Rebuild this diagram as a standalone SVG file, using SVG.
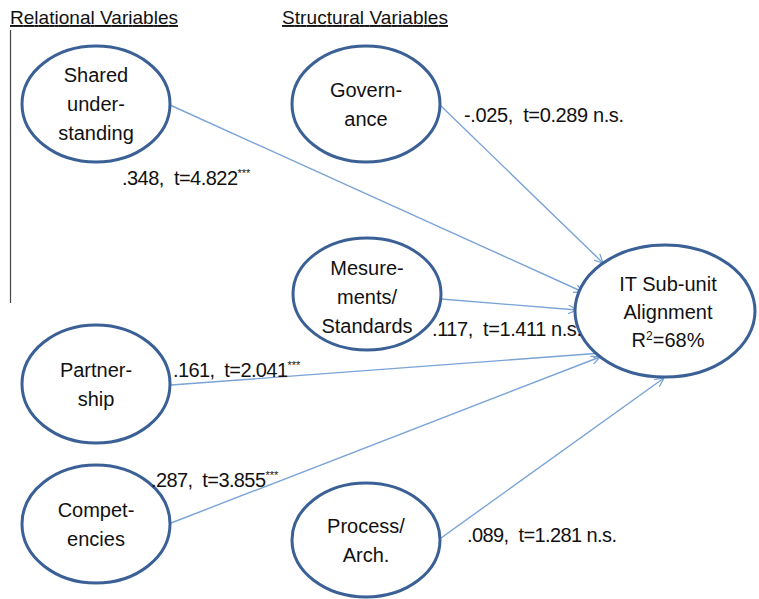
<svg xmlns="http://www.w3.org/2000/svg" width="759" height="599" viewBox="0 0 759 599">
<style>
.node{fill:#fff;stroke:#3a6096;stroke-width:3}
.t{font-family:"Liberation Sans",Arial,sans-serif;font-size:20px;fill:#111;text-anchor:middle}
.lab{font-family:"Liberation Sans",Arial,sans-serif;font-size:20px;fill:#111;white-space:pre}
.sup{font-size:11px}
.hd{font-family:"Liberation Sans",Arial,sans-serif;font-size:19px;fill:#111;text-decoration:underline}
.e{stroke:#7aa3d6;stroke-width:1.4;fill:none;marker-end:url(#ah)}
</style>
<defs>
<marker id="ah" viewBox="0 0 10 10" refX="10" refY="5" markerWidth="9" markerHeight="9" markerUnits="userSpaceOnUse" orient="auto">
<path d="M0,0 L10,5 L0,10" fill="none" stroke="#7aa3d6" stroke-width="1.4"/>
</marker>
</defs>
<rect width="759" height="599" fill="#fff"/>
<g id="headers">
<text class="hd" x="10" y="24" textLength="168">Relational Variables</text>
<text class="hd" x="282" y="24" textLength="166">Structural Variables</text>
<line x1="10.5" y1="30" x2="10.5" y2="303" stroke="#444" stroke-width="1.2"/>
</g>
<g id="connectors">
<line class="e" x1="170" y1="105" x2="583" y2="292"/>
<line class="e" x1="441" y1="106" x2="603" y2="263"/>
<line class="e" x1="441" y1="299" x2="577" y2="310"/>
<line class="e" x1="171" y1="385" x2="602" y2="353"/>
<line class="e" x1="171" y1="523" x2="600" y2="357"/>
<line class="e" x1="441" y1="538" x2="664" y2="378"/>
</g>
<g id="shared">
<ellipse class="node" cx="96" cy="104" rx="74" ry="58"/>
<text class="t" x="96" y="82">Shared</text>
<text class="t" x="96" y="111">under-</text>
<text class="t" x="96" y="140">standing</text>
</g>
<g id="governance">
<ellipse class="node" cx="366" cy="104" rx="74" ry="58"/>
<text class="t" x="366" y="97">Govern-</text>
<text class="t" x="366" y="126">ance</text>
</g>
<g id="measurements">
<ellipse class="node" cx="367" cy="294" rx="74" ry="56"/>
<text class="t" x="367" y="275">Mesure-</text>
<text class="t" x="367" y="304">ments/</text>
<text class="t" x="367" y="333">Standards</text>
</g>
<g id="alignment">
<ellipse class="node" cx="665" cy="311" rx="90" ry="66"/>
<text class="t" x="668" y="291">IT Sub-unit</text>
<text class="t" x="668" y="319">Alignment</text>
<text class="t" x="668" y="347">R<tspan font-size="12" dy="-7">2</tspan><tspan dy="7">=68%</tspan></text>
</g>
<g id="partnership">
<ellipse class="node" cx="96" cy="384" rx="74" ry="59"/>
<text class="t" x="96" y="377">Partner-</text>
<text class="t" x="96" y="406">ship</text>
</g>
<g id="competencies">
<ellipse class="node" cx="96" cy="524" rx="74" ry="59"/>
<text class="t" x="96" y="517">Compet-</text>
<text class="t" x="96" y="546">encies</text>
</g>
<g id="process">
<ellipse class="node" cx="366" cy="540" rx="74" ry="57"/>
<text class="t" x="366" y="533">Process/</text>
<text class="t" x="366" y="562">Arch.</text>
</g>
<g id="labels">
<text class="lab" x="122" y="185"><tspan textLength="116">.348,  t=4.822</tspan><tspan class="sup" dy="-8">***</tspan></text>
<text class="lab" x="464" y="122" textLength="160">-.025,  t=0.289 n.s.</text>
<text class="lab" x="432" y="336" textLength="150">.117,  t=1.411 n.s.</text>
<text class="lab" x="173" y="377"><tspan textLength="115">.161,  t=2.041</tspan><tspan class="sup" dy="-8">***</tspan></text>
<text class="lab" x="151" y="487"><tspan textLength="115">.287,  t=3.855</tspan><tspan class="sup" dy="-8">***</tspan></text>
<text class="lab" x="467" y="542" textLength="150">.089,  t=1.281 n.s.</text>
</g>
</svg>
